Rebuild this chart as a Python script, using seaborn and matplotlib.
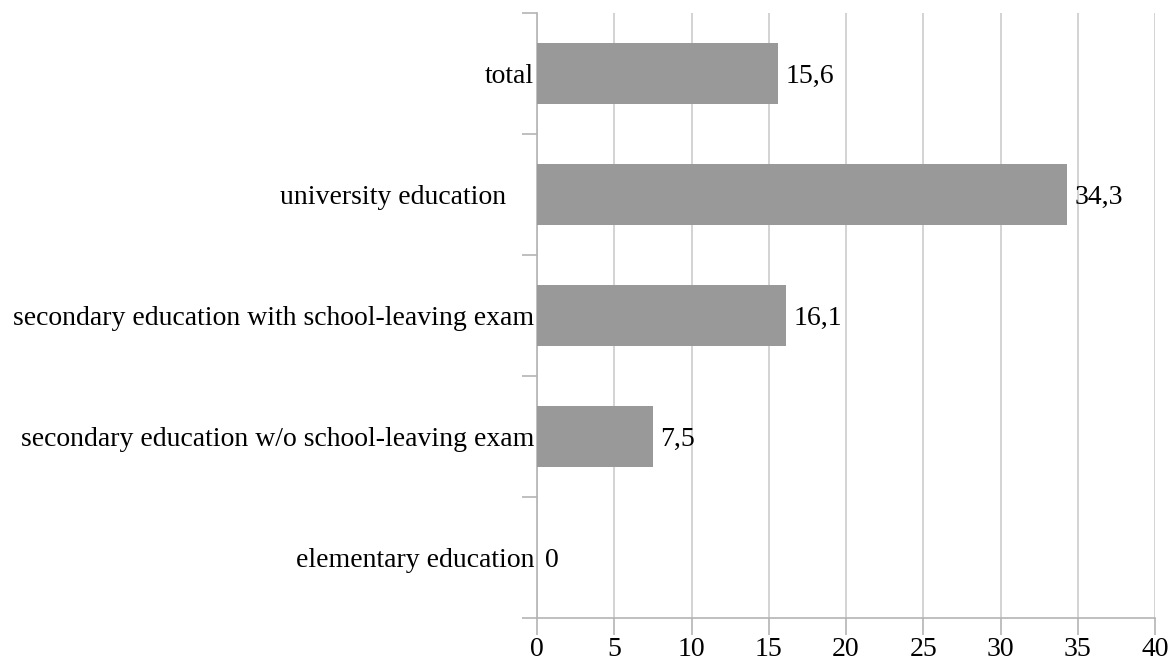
import seaborn as sns
import matplotlib.pyplot as plt
from matplotlib.ticker import FixedLocator
import numpy as np
import pandas as pd

categories = ["total", "university education    ",
              "secondary education with school-leaving exam",
              "secondary education w/o school-leaving exam",
              "elementary education"]
values = [15.6, 34.3, 16.1, 7.5, 0]
x_ticks = [0, 5, 10, 15, 20, 25, 30, 35, 40]

df = pd.DataFrame({"group": categories, "value": values})

sns.set_style("white")
plt.rcParams['font.family'] = ['Liberation Serif', 'DejaVu Serif']

FS = 20
fig = plt.figure(figsize=(11.72, 6.62), dpi=100)
ax = fig.add_axes([537 / 1172, 1 - 618 / 662, 618 / 1172, 605 / 662])

sns.barplot(data=df, x="value", y="group", order=categories, color="#999999",
            width=0.5, saturation=1, linewidth=0, ax=ax, zorder=3)

# data labels with decimal comma
for i, v in enumerate(values):
    ax.text(v + 0.5, i, f"{v:g}".replace(".", ","), va="center_baseline",
            ha="left", fontsize=FS, color="black", zorder=4)

ax.set_xlim(0, 40)
ax.set_ylim(len(categories) - 0.5, -0.5)
ax.set_xticks(x_ticks)
ax.set_xticklabels([str(t) for t in x_ticks])
ax.set_xlabel("")
ax.set_ylabel("")

ax.grid(axis="x", color="#cccccc", linewidth=1.2, zorder=0)
ax.grid(axis="y", visible=False)

for s in ["top", "right"]:
    ax.spines[s].set_visible(False)
for s in ["left", "bottom"]:
    ax.spines[s].set_color("#b4b4b4")
    ax.spines[s].set_linewidth(1.2)

ax.tick_params(axis="y", which="major", left=False, length=0, pad=2,
               labelsize=FS, labelcolor="black")
ax.yaxis.set_minor_locator(FixedLocator(np.arange(-0.5, len(categories), 1)))
ax.tick_params(axis="y", which="minor", left=True, length=11,
               color="#b4b4b4", width=1.2)
ax.tick_params(axis="x", which="major", bottom=True, length=12,
               color="#b4b4b4", width=1.2, pad=2, labelsize=FS,
               labelcolor="black")

fig.savefig("out.png", dpi=100)
